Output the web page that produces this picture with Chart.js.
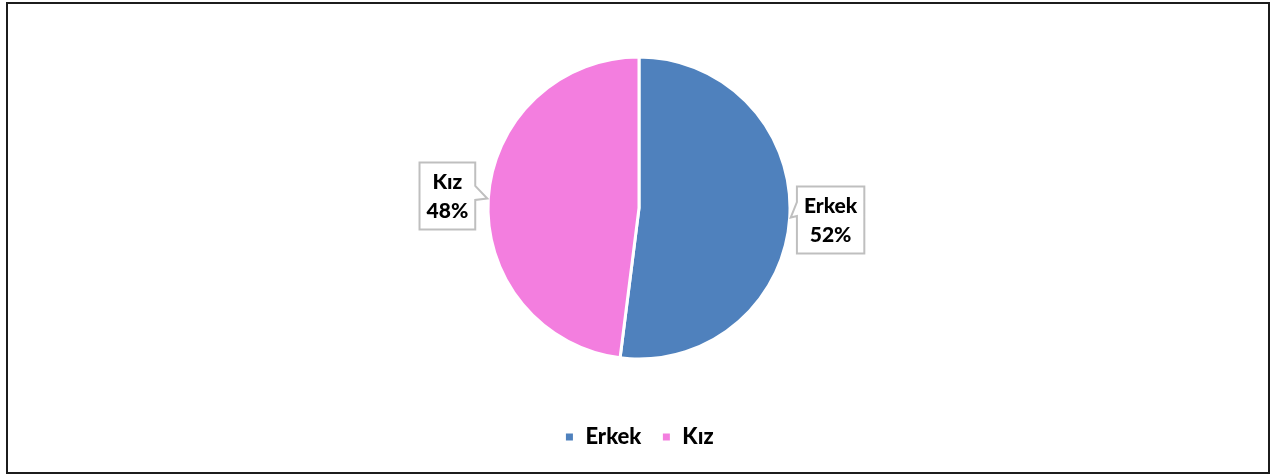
<!DOCTYPE html>
<html>
<head>
<meta charset="utf-8">
<script src="https://cdn.jsdelivr.net/npm/chart.js@4.4.0/dist/chart.umd.min.js"></script>
<style>
    body { margin: 0; background: #fff; }
    #kutu { position: relative; width: 1272px; height: 476px; }
    #cerceve { position: absolute; left: 6px; top: 2px; width: 1260px; height: 468px; border: 2px solid #1c1c1c; pointer-events: none; }
</style>
</head>
<body>
<div id="kutu">
    <canvas id="cinsiyet_chart" width="1272" height="476"></canvas>
    <div id="cerceve"></div>
</div>
<script>
var etiketler = ["Erkek", "Kız"];
var oranlar = [52, 48];
var renkler = ["#4F81BD", "#F37EDF"];

// etiket kutularini dilimlerin yanina ciz
const etiketKutusu = {
    id: "etiketKutusu",
    afterDatasetsDraw(chart) {
        const ctx = chart.ctx;
        const meta = chart.getDatasetMeta(0);
        const toplam = oranlar.reduce(function (a, b) { return a + b; }, 0);
        ctx.save();
        ctx.font = "900 21px Lato";
        meta.data.forEach(function (arc, i) {
            const p = arc.getProps(["x", "y", "startAngle", "endAngle", "outerRadius"], true);
            const orta = (p.startAngle + p.endAngle) / 2;
            const r = p.outerRadius;
            const cx = p.x + Math.cos(orta) * (r + 41);
            const cy = p.y + Math.sin(orta) * (r + 41);
            const satir1 = etiketler[i];
            const satir2 = Math.round(oranlar[i] / toplam * 100) + "%";
            const w = Math.max(ctx.measureText(satir1).width, ctx.measureText(satir2).width) + 14;
            const h = 67;
            const x0 = cx - w / 2, x1 = cx + w / 2, y0 = cy - h / 2, y1 = cy + h / 2;
            const ux = p.x + Math.cos(orta) * (r + 1);
            const uy = p.y + Math.sin(orta) * (r + 1);

            ctx.beginPath();
            ctx.moveTo(x0, y0);
            ctx.lineTo(x1, y0);
            if (Math.cos(orta) < 0) {
                ctx.lineTo(x1, cy - 10);
                ctx.lineTo(ux, uy);
                ctx.lineTo(x1, cy + 4);
            }
            ctx.lineTo(x1, y1);
            ctx.lineTo(x0, y1);
            if (Math.cos(orta) >= 0) {
                ctx.lineTo(x0, cy - 4);
                ctx.lineTo(ux, uy);
                ctx.lineTo(x0, cy - 18);
            }
            ctx.closePath();
            ctx.fillStyle = "#ffffff";
            ctx.fill();
            ctx.strokeStyle = "#BFBFBF";
            ctx.lineWidth = 2;
            ctx.stroke();

            ctx.fillStyle = "#000000";
            ctx.textAlign = "center";
            ctx.textBaseline = "middle";
            ctx.fillText(satir1, cx, cy - 14);
            ctx.fillText(satir2, cx, cy + 15);
        });
        ctx.restore();
    }
};

function GraficaCinsiyet() {
    let ctx = document.getElementById("cinsiyet_chart").getContext("2d");
    const chart = new Chart(ctx, {
        type: "pie",
        data: {
            labels: etiketler,
            datasets: [
                {
                    data: oranlar,
                    backgroundColor: renkler,
                    borderColor: "#ffffff",
                    borderWidth: 3,
                    radius: 151
                }
            ]
        },
        options: {
            responsive: false,
            animation: false,
            layout: { padding: { top: 10, bottom: 18, left: 6, right: 0 } },
            plugins: {
                legend: {
                    position: "bottom",
                    labels: {
                        usePointStyle: true,
                        pointStyle: "rect",
                        boxWidth: 10,
                        boxHeight: 10,
                        padding: 20,
                        color: "#000000",
                        font: { family: "Lato", size: 22, weight: "900" }
                    }
                },
                tooltip: { enabled: false }
            }
        },
        plugins: [etiketKutusu]
    });
}

GraficaCinsiyet();
</script>
</body>
</html>
